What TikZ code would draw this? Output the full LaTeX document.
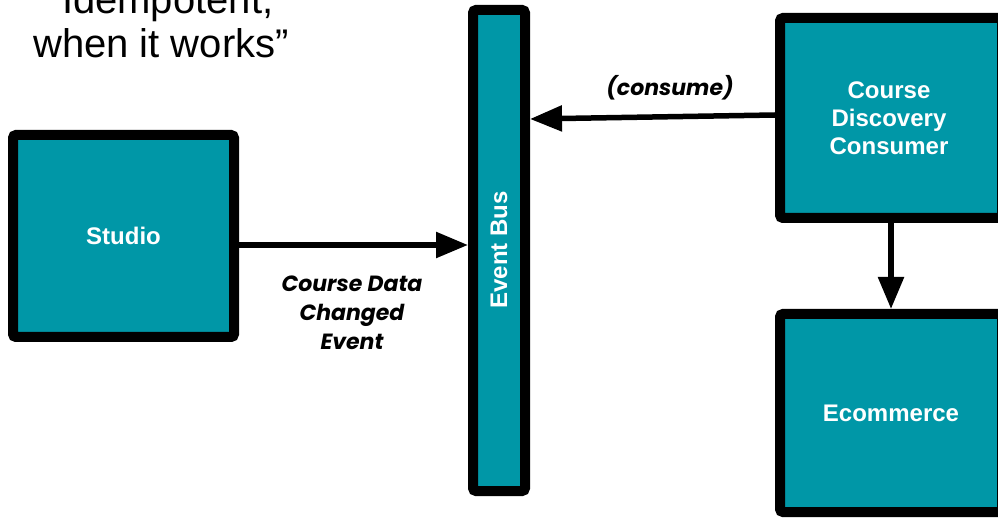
\documentclass[tikz,border=0pt]{standalone}
\usepackage{fontspec}
\setmainfont{Liberation Sans}
\newfontfamily\geofont{Poppins}
\usetikzlibrary{arrows.meta,calc}
\definecolor{busteal}{RGB}{0,151,167}
\tikzset{
  svcbox/.style={draw=black, fill=busteal, line width=10pt, rounded corners=3pt,
    text=white, font=\fontsize{24}{28}\selectfont\bfseries, align=center,
    inner sep=0pt},
  flow/.style={line width=5.5pt, -{Triangle[length=32pt,width=25pt]}},
  flowlabel/.style={font=\geofont\fontsize{22}{29}\selectfont\bfseries\itshape, align=center},
  quote/.style={font=\fontsize{40}{44}\selectfont, anchor=base}
}
\begin{document}
\begin{tikzpicture}[x=1pt,y=-1pt]
  \useasboundingbox (0,0) rectangle (998,518);

  % heading
  \node[quote] (q1) at (161,14) {“Idempotent,};
  \node[quote] (q2) at (161,58) {when it works”};

  % services and the bus
  \node[svcbox, minimum width=221pt, minimum height=202pt] (studio) at (123.5,236) {Studio};
  \node[svcbox, minimum width=52pt, minimum height=481pt] (bus) at (499,250.5) {};
  \node[text=white, font=\fontsize{24}{28}\selectfont\bfseries, rotate=90] (buslbl) at (499,250) {Event Bus};
  \node[svcbox, minimum width=222pt, minimum height=200pt] (cdc) at (891,118) {};
  \node[text=white, font=\fontsize{24}{28}\selectfont\bfseries, align=center] (cdclbl) at (889,118) {Course\\Discovery\\Consumer};
  \node[svcbox, minimum width=222pt, minimum height=198pt] (ecom) at (891,413) {Ecommerce};

  % connectors
  \coordinate (s1) at ([yshift=-9pt]studio.east);
  \draw[flow] (s1) -- (s1 -| bus.west);
  \coordinate (c1) at ([yshift=3pt]cdc.west);
  \draw[flow] (c1) -- ($(c1 -| bus.east)+(0,4)$);
  \draw[flow] (cdc.south) -- (ecom.north);

  % connector labels
  \node[flowlabel] (evlbl) at (352,313) {Course Data\\Changed\\Event};
  \node[flowlabel] (conslbl) at (670,88) {(consume)};
\end{tikzpicture}
\end{document}
